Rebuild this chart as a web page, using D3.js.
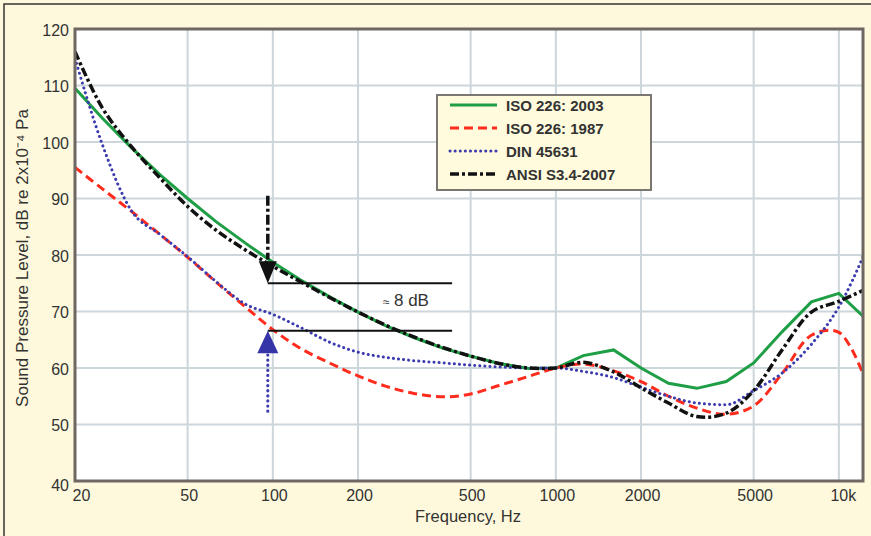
<!DOCTYPE html>
<html>
<head>
<meta charset="utf-8">
<script src="https://cdn.jsdelivr.net/npm/d3@7"></script>
<style>
  html, body { margin: 0; padding: 0; background: #fef9dc; overflow: hidden; }
  text { font-family: "Liberation Sans", Arial, Helvetica, sans-serif; fill: #333; }
</style>
</head>
<body>
<script>
'use strict';

var width = 871, height = 536;

// one-third octave centre frequencies, Hz
var freqs = [20, 25, 31.5, 40, 50, 63, 80, 100, 125, 160, 200, 250, 315, 400, 500,
  630, 800, 1000, 1250, 1600, 2000, 2500, 3150, 4000, 5000, 6300, 8000, 10000, 12500];

// 60 dB at 1 kHz contours, dB
var iso2003 = [109.5, 104.2, 99.1, 94.2, 90.0, 85.9, 82.1, 78.7, 75.6, 72.5, 69.9, 67.5, 65.4, 63.5, 62.1,
  60.8, 59.9, 60.0, 62.2, 63.2, 60.0, 57.3, 56.4, 57.6, 60.9, 66.4, 71.7, 73.2, 68.6];
var iso1987 = [95.5, 91.7, 87.8, 83.6, 79.6, 75.2, 70.8, 66.8, 63.5, 60.8, 58.6, 56.8, 55.5, 54.9, 55.4,
  56.9, 58.5, 60.0, 60.7, 59.5, 57.6, 55.0, 52.9, 51.8, 53.3, 59.0, 65.8, 66.3, 57.5];
var din45631 = [114.8, 99.5, 88.0, 83.6, 79.7, 75.3, 71.3, 69.5, 67.2, 64.5, 62.8, 61.9, 61.3, 60.9, 60.5,
  60.2, 60.0, 60.0, 59.4, 58.3, 56.6, 55.0, 53.8, 53.5, 56.0, 59.1, 64.2, 70.8, 81.0];
var ansi2007 = [116.0, 106.0, 99.3, 93.6, 88.6, 84.4, 80.9, 78.0, 75.3, 72.4, 69.9, 67.6, 65.5, 63.6, 62.1,
  60.8, 60.0, 60.0, 61.0, 59.3, 56.5, 53.8, 51.4, 52.0, 56.0, 63.2, 69.9, 71.8, 74.0];

var seriesNames = ["ISO 226: 2003", "ISO 226: 1987", "DIN 45631", "ANSI S3.4-2007"];

var xTicks = [20, 50, 100, 200, 500, 1000, 2000, 5000, 10000];
var xTickLabels = ["20", "50", "100", "200", "500", "1000", "2000", "5000", "10k"];
var yTicks = [40, 50, 60, 70, 80, 90, 100, 110, 120];

// the 8 dB annotation at about 96 Hz
var markFreq = 96, markLineEnd = 430;
var markLevels = [75, 66.6];

var styles = [
  { color: "#1e9e45", dash: null, width: 3, cap: "butt", curve: d3.curveLinear },
  { color: "#ff2b1c", dash: "9,5", width: 3, cap: "butt", curve: d3.curveCatmullRom },
  { color: "#3c3cae", dash: "0.1,5", width: 3, cap: "round", curve: d3.curveMonotoneX },
  { color: "#111", dash: "9,3,3,3", width: 3.5, cap: "butt", curve: d3.curveCatmullRom }
];
var values = [iso2003, iso1987, din45631, ansi2007];

var svg = d3.select("body").append("svg")
  .attr("width", width)
  .attr("height", height);

svg.append("rect")
  .attr("x", 4).attr("y", 4)
  .attr("width", width + 10).attr("height", height + 10)
  .attr("fill", "#fef9dc")
  .attr("stroke", "#333").attr("stroke-width", 1.5);

var pLeft = 75, pRight = 863, pTop = 29, pBottom = 481;

var x = d3.scaleLog().domain([20, 12170]).range([pLeft, pRight]);
var y = d3.scaleLinear().domain([40, 120]).range([pBottom, pTop]);

svg.append("rect")
  .attr("x", pLeft).attr("y", pTop)
  .attr("width", pRight - pLeft).attr("height", pBottom - pTop)
  .attr("fill", "#fff");

svg.append("clipPath").attr("id", "plot")
  .append("rect")
  .attr("x", pLeft).attr("y", pTop)
  .attr("width", pRight - pLeft).attr("height", pBottom - pTop);

// grid
var grid = svg.append("g");
grid.selectAll(".vx")
  .data(xTicks.slice(1))
  .enter().append("line")
  .attr("x1", function(d) { return x(d); })
  .attr("x2", function(d) { return x(d); })
  .attr("y1", pTop).attr("y2", pBottom)
  .attr("stroke", "#cdd6da").attr("stroke-width", 2);
grid.selectAll(".hy")
  .data(yTicks.slice(1, -1))
  .enter().append("line")
  .attr("y1", function(d) { return y(d); })
  .attr("y2", function(d) { return y(d); })
  .attr("x1", pLeft).attr("x2", pRight)
  .attr("stroke", "#cdd6da").attr("stroke-width", 2);

// axes
var xAxis = svg.append("g")
  .attr("transform", "translate(0," + pBottom + ")")
  .call(d3.axisBottom(x).tickValues(xTicks).tickSize(0).tickPadding(9)
    .tickFormat(function(d, i) { return xTickLabels[i]; }));
xAxis.select(".domain").remove();
xAxis.selectAll("text")
  .style("font-size", "16px")
  .attr("fill", "#333")
  .attr("dx", function(d, i) { return i === 0 ? 6 : (i === xTicks.length - 1 ? 4 : 1); });

var yAxis = svg.append("g")
  .attr("transform", "translate(" + pLeft + ",0)")
  .call(d3.axisLeft(y).tickValues(yTicks).tickSize(0).tickPadding(6));
yAxis.select(".domain").remove();
yAxis.selectAll("text")
  .style("font-size", "16px")
  .attr("fill", "#333")
  .attr("dy", function(d) { return d === 40 ? "0.6em" : "0.4em"; });

// curves
var lines = svg.append("g").attr("clip-path", "url(#plot)");
values.forEach(function(vals, k) {
  var st = styles[k];
  var line = d3.line()
    .x(function(d, i) { return x(freqs[i]); })
    .y(function(d) { return y(d); })
    .curve(st.curve);
  lines.append("path")
    .datum(vals)
    .attr("d", line)
    .attr("fill", "none")
    .attr("stroke", st.color)
    .attr("stroke-width", st.width)
    .attr("stroke-linecap", st.cap)
    .attr("stroke-dasharray", st.dash);
});

// annotation
var ann = svg.append("g");
var mx = x(markFreq);
markLevels.forEach(function(v) {
  ann.append("line")
    .attr("x1", mx).attr("x2", x(markLineEnd))
    .attr("y1", y(v)).attr("y2", y(v))
    .attr("stroke", "#111").attr("stroke-width", 2);
});
ann.append("line")
  .attr("x1", mx).attr("x2", mx)
  .attr("y1", y(90.5)).attr("y2", y(79.2))
  .attr("stroke", "#111").attr("stroke-width", 3.5)
  .attr("stroke-dasharray", "10,3,3,3");
ann.append("path")
  .attr("d", "M" + (mx - 9) + "," + y(78.9) + "L" + (mx + 9) + "," + y(78.9) + "L" + mx + "," + y(markLevels[0]) + "Z")
  .attr("fill", "#111");
ann.append("line")
  .attr("x1", mx).attr("x2", mx)
  .attr("y1", y(62.3)).attr("y2", y(52.1))
  .attr("stroke", "#3c3cae").attr("stroke-width", 3.2)
  .attr("stroke-linecap", "round")
  .attr("stroke-dasharray", "0.1,5");
ann.append("path")
  .attr("d", "M" + (mx - 10.5) + "," + y(62.6) + "L" + (mx + 10.5) + "," + y(62.6) + "L" + mx + "," + y(markLevels[1]) + "Z")
  .attr("fill", "#3535a8");
ann.append("text")
  .attr("x", x(245)).attr("y", y(71))
  .style("font-size", "12px")
  .text("≈");
ann.append("text")
  .attr("x", x(268)).attr("y", y(71))
  .style("font-size", "17px")
  .text("8 dB");

// frame
svg.append("rect")
  .attr("x", pLeft).attr("y", pTop)
  .attr("width", pRight - pLeft).attr("height", pBottom - pTop)
  .attr("fill", "none")
  .attr("stroke", "#6f6762").attr("stroke-width", 3);

// legend
var legend = svg.append("g").attr("transform", "translate(437,95)");
legend.append("rect")
  .attr("width", 214).attr("height", 95)
  .attr("fill", "#fffbdc")
  .attr("stroke", "#7a7672").attr("stroke-width", 2);
seriesNames.forEach(function(name, k) {
  var st = styles[k];
  var ly = 10 + k * 23;
  legend.append("line")
    .attr("x1", 13).attr("x2", 60)
    .attr("y1", ly).attr("y2", ly)
    .attr("stroke", st.color)
    .attr("stroke-width", st.width)
    .attr("stroke-linecap", st.cap)
    .attr("stroke-dasharray", st.dash);
  legend.append("text")
    .attr("x", 69).attr("y", ly + 5.5)
    .style("font-size", "15px")
    .style("font-weight", "bold")
    .text(name);
});

// axis titles
svg.append("text")
  .attr("x", (pLeft + pRight) / 2 - 1).attr("y", 522)
  .attr("text-anchor", "middle")
  .style("font-size", "16.5px")
  .text("Frequency, Hz");
svg.append("text")
  .attr("transform", "translate(28,258) rotate(-90)")
  .attr("text-anchor", "middle")
  .style("font-size", "17px")
  .text("Sound Pressure Level, dB re 2x10⁻⁴ Pa");
</script>
</body>
</html>
